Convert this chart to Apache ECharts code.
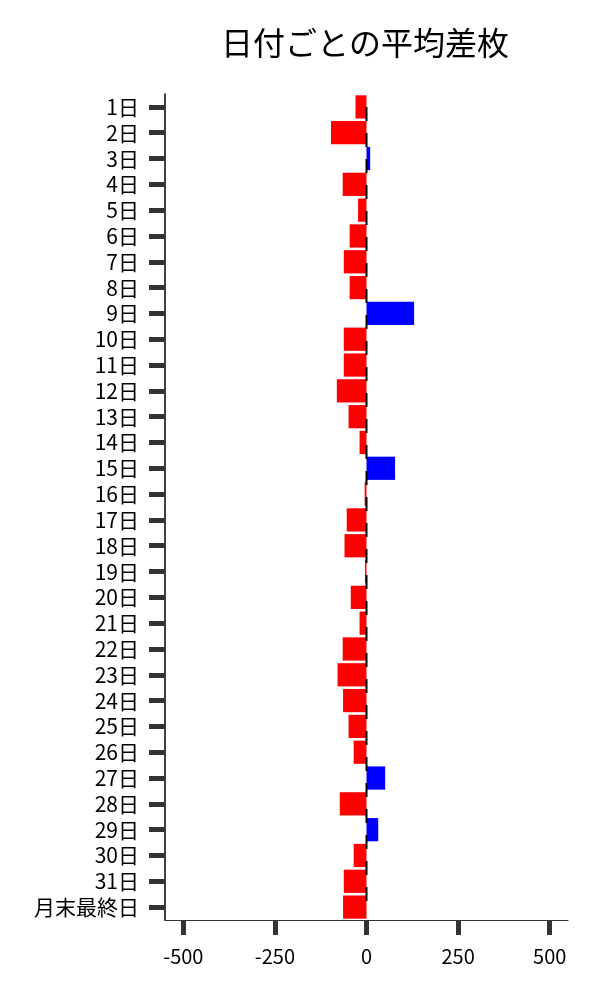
<!DOCTYPE html>
<html><head><meta charset="utf-8">
<script src="https://cdn.jsdelivr.net/npm/echarts@6/dist/echarts.min.js"></script>
<style>html,body{margin:0;padding:0;background:#fff}#c{width:600px;height:1000px}</style>
</head><body><div id="c"></div>
<script>
const categories = ['1日','2日','3日','4日','5日','6日','7日','8日','9日','10日','11日','12日','13日','14日','15日','16日','17日','18日','19日','20日','21日','22日','23日','24日','25日','26日','27日','28日','29日','30日','31日','月末最終日'];
const values = [-30,-97,10,-65,-23,-46,-62,-46,130,-62,-62,-81,-49,-19,78,-5,-54,-60,-4,-43,-19,-65,-79,-64,-49,-35,51,-73,32,-35,-62,-64];
const xTicks = [-500,-250,0,250,500];
const zeros = categories.map(() => 0);

const chart = echarts.init(document.getElementById('c'));
const font = '"Noto Sans CJK JP", "Noto Sans", sans-serif';
chart.setOption({
  animation: false,
  textStyle: { fontFamily: font },
  title: {
    text: '日付ごとの平均差枚', left: 360, top: 22, textAlign: 'center',
    textStyle: { fontFamily: font, fontSize: 32, fontWeight: 'normal', color: '#000' }
  },
  grid: { left: 165, right: 32, top: 94, bottom: 80 },
  xAxis: {
    type: 'value', min: -550, max: 550,
    splitLine: { show: false },
    axisLine: { show: true, onZero: false, lineStyle: { color: '#333', width: 1.2 } },
    axisTick: { show: true, customValues: xTicks, length: 15, lineStyle: { color: '#333', width: 5 } },
    axisLabel: { customValues: xTicks, fontSize: 20, color: '#000', margin: 26, fontFamily: font }
  },
  yAxis: {
    type: 'category', data: categories, inverse: true,
    axisLine: { show: true, onZero: false, lineStyle: { color: '#000', width: 1.5 } },
    axisTick: { show: true, alignWithLabel: true, length: 16, lineStyle: { color: '#333', width: 5 } },
    axisLabel: { fontSize: 21, color: '#000', margin: 26, fontFamily: font, interval: 0 }
  },
  series: [
    {
      type: 'bar', z: 2, barCategoryGap: '10%',
      data: values.map(v => ({ value: v, itemStyle: { color: v >= 0 ? '#0000ff' : '#ff0000' } }))
    },
    {
      type: 'line', data: zeros, symbol: 'none', z: 3,
      lineStyle: { color: '#000', width: 2, type: [14, 12], dashOffset: 0 }, silent: true
    }
  ]
});
</script></body></html>
